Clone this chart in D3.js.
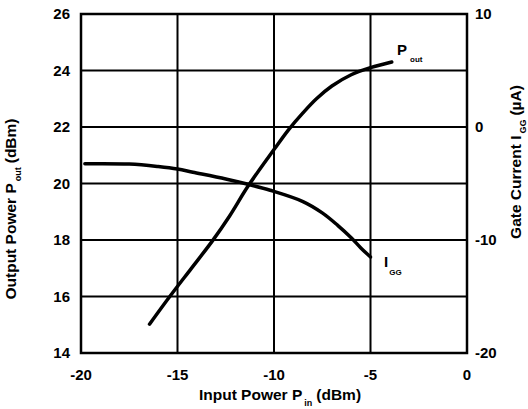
<!DOCTYPE html>
<html>
<head>
<meta charset="utf-8">
<script src="https://cdn.jsdelivr.net/npm/d3@7"></script>
<style>
  body { margin: 0; background: #fff; }
  text { font-family: "Liberation Sans", Arial, sans-serif; font-weight: bold; fill: #000; }
</style>
</head>
<body>
<svg id="chart" width="528" height="409"></svg>
<script>
// input power (dBm) vs output power (dBm)
const pinOut = [-16.45, -15.4, -14.3, -13.2, -12.3, -11.35, -10, -9.25, -8.5, -7.8, -7, -6, -5, -3.9];
const pout   = [15.02, 16.0, 16.98, 17.96, 18.85, 19.9, 21.2, 21.9, 22.5, 23.0, 23.45, 23.85, 24.1, 24.3];

// input power (dBm) vs gate current (uA)
const pinGate = [-19.8, -17.5, -16, -15, -14.2, -12.5, -11.4, -10.2, -8.5, -7.5, -6.7, -6, -5.5, -5];
const igg     = [-3.25, -3.28, -3.5, -3.72, -4.0, -4.6, -5.05, -5.6, -6.6, -7.6, -8.7, -9.8, -10.7, -11.5];

const xTicks = [-20, -15, -10, -5, 0];
const yLeftTicks = [14, 16, 18, 20, 22, 24, 26];
const yRightTicks = [-20, -10, 0, 10];

const svg = d3.select('#chart');
const plotL = 81, plotR = 467, plotT = 14, plotB = 353;

const x = d3.scaleLinear().domain([-20, 0]).range([plotL, plotR]);
const yL = d3.scaleLinear().domain([14, 26]).range([plotB, plotT]);
const yR = d3.scaleLinear().domain([-20, 10]).range([plotB, plotT]);

// grid
svg.append('g')
  .selectAll('line')
  .data(xTicks.slice(1, -1))
  .join('line')
  .attr('x1', d => x(d)).attr('x2', d => x(d))
  .attr('y1', plotT).attr('y2', plotB)
  .attr('stroke', '#000').attr('stroke-width', 2);

svg.append('g')
  .selectAll('line')
  .data(yLeftTicks.slice(1, -1))
  .join('line')
  .attr('x1', plotL).attr('x2', plotR)
  .attr('y1', d => yL(d)).attr('y2', d => yL(d))
  .attr('stroke', '#000').attr('stroke-width', 2);

svg.append('rect')
  .attr('x', plotL).attr('y', plotT)
  .attr('width', plotR - plotL).attr('height', plotB - plotT)
  .attr('fill', 'none').attr('stroke', '#000').attr('stroke-width', 2.5);

// tick labels
svg.append('g')
  .selectAll('text')
  .data(yLeftTicks)
  .join('text')
  .attr('x', 70).attr('y', d => yL(d) + 5)
  .attr('text-anchor', 'end')
  .attr('font-size', 15)
  .text(d => d);

svg.append('g')
  .selectAll('text')
  .data(yRightTicks)
  .join('text')
  .attr('x', 475).attr('y', d => yR(d) + 5)
  .attr('font-size', 15)
  .text(d => d);

svg.append('g')
  .selectAll('text')
  .data(xTicks)
  .join('text')
  .attr('x', d => x(d)).attr('y', 380)
  .attr('text-anchor', 'middle')
  .attr('font-size', 15)
  .text(d => d);

// curves
const lineOut = d3.line()
  .x(d => x(d[0])).y(d => yL(d[1]))
  .curve(d3.curveCatmullRom);
const lineGate = d3.line()
  .x(d => x(d[0])).y(d => yR(d[1]))
  .curve(d3.curveCatmullRom);

svg.append('path')
  .attr('d', lineOut(d3.zip(pinOut, pout)))
  .attr('fill', 'none').attr('stroke', '#000').attr('stroke-width', 3.5)
  .attr('stroke-linecap', 'round');

svg.append('path')
  .attr('d', lineGate(d3.zip(pinGate, igg)))
  .attr('fill', 'none').attr('stroke', '#000').attr('stroke-width', 3.5)
  .attr('stroke-linecap', 'round');

// curve labels
const lblOut = svg.append('text').attr('x', 397).attr('y', 55).attr('font-size', 15);
lblOut.append('tspan').text('P');
lblOut.append('tspan').attr('dx', 3).attr('dy', 7).attr('font-size', 8).text('out');

const lblGate = svg.append('text').attr('x', 384).attr('y', 267).attr('font-size', 15);
lblGate.append('tspan').text('I');
lblGate.append('tspan').attr('dx', 1).attr('dy', 8).attr('font-size', 8).text('GG');

// axis titles
const xt = svg.append('text').attr('x', 280).attr('y', 400).attr('text-anchor', 'middle').attr('font-size', 15.5);
xt.append('tspan').text('Input Power P');
xt.append('tspan').attr('dx', 2).attr('dy', 6).attr('font-size', 9).text('in');
xt.append('tspan').attr('dx', 4).attr('dy', -6).text('(dBm)');

const ylt = svg.append('text')
  .attr('transform', 'translate(16,209) rotate(-90)')
  .attr('text-anchor', 'middle').attr('font-size', 15.5);
ylt.append('tspan').text('Output Power P');
ylt.append('tspan').attr('dx', 2).attr('dy', 5).attr('font-size', 9).text('out');
ylt.append('tspan').attr('dx', 4).attr('dy', -5).text('(dBm)');

const yrt = svg.append('text')
  .attr('transform', 'translate(521,162) rotate(-90)')
  .attr('text-anchor', 'middle').attr('font-size', 15.5);
yrt.append('tspan').text('Gate Current I');
yrt.append('tspan').attr('dx', 2).attr('dy', 5).attr('font-size', 9).text('GG');
yrt.append('tspan').attr('dx', 4).attr('dy', -5).text('(\u00b5A)');
</script>
</body>
</html>
